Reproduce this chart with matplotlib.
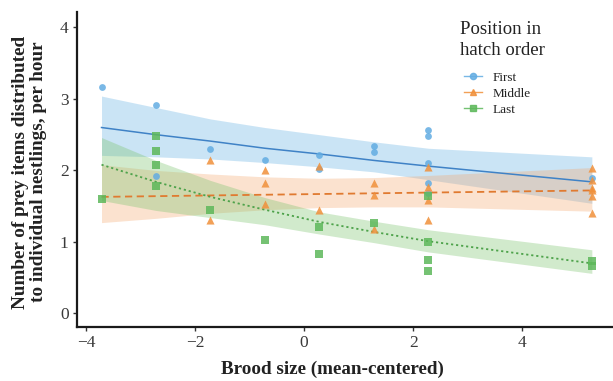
import matplotlib
matplotlib.use("Agg")
import matplotlib.pyplot as plt
from matplotlib.lines import Line2D

# ---- data ----
first_x = [-3.72, -2.72, -2.72, -1.72, -0.72, 0.28, 0.28, 1.28, 1.28, 2.28, 2.28, 2.28, 2.28, 2.28, 5.28]
first_y = [3.16, 2.91, 1.92, 2.30, 2.14, 2.21, 2.02, 2.34, 2.26, 2.57, 2.48, 2.11, 1.83, 1.69, 1.89]

middle_x = [-1.72, -1.72, -0.72, -0.72, -0.72, 0.28, 0.28, 1.28, 1.28, 1.28,
            2.28, 2.28, 2.28, 2.28, 5.28, 5.28, 5.28, 5.28, 5.28, 5.28]
middle_y = [2.15, 1.30, 2.01, 1.82, 1.53, 2.06, 1.44, 1.82, 1.66, 1.18,
            2.05, 1.77, 1.59, 1.31, 2.03, 1.86, 1.76, 1.72, 1.64, 1.40]

last_x = [-3.72, -2.72, -2.72, -2.72, -2.72, -1.72, -0.72, 0.28, 0.28, 1.28,
          2.28, 2.28, 2.28, 2.28, 5.28, 5.28]
last_y = [1.60, 2.48, 2.27, 2.07, 1.78, 1.45, 1.03, 1.21, 0.83, 1.27,
          1.64, 1.00, 0.75, 0.59, 0.73, 0.67]

fit_x = [-3.72, -2.72, -1.72, -0.72, 0.28, 1.28, 2.28, 5.28]
first_fit = [2.60, 2.50, 2.41, 2.31, 2.23, 2.14, 2.06, 1.84]
first_hi = [3.04, 2.88, 2.72, 2.60, 2.50, 2.40, 2.31, 2.19]
first_lo = [2.21, 2.19, 2.16, 2.11, 2.05, 1.98, 1.87, 1.54]

middle_fit = [1.63, 1.64, 1.65, 1.66, 1.67, 1.68, 1.69, 1.72]
middle_hi = [2.08, 2.00, 1.95, 1.91, 1.89, 1.90, 1.93, 2.04]
middle_lo = [1.27, 1.33, 1.40, 1.45, 1.48, 1.49, 1.49, 1.43]

last_fit = [2.08, 1.84, 1.63, 1.45, 1.28, 1.14, 1.01, 0.70]
last_hi = [2.46, 2.14, 1.86, 1.62, 1.42, 1.29, 1.17, 0.89]
last_lo = [1.58, 1.44, 1.34, 1.24, 1.11, 0.99, 0.86, 0.56]

x_ticks = [-4, -2, 0, 2, 4]
y_ticks = [0, 1, 2, 3, 4]
legend_labels = ["First", "Middle", "Last"]

# ---- style ----
serif = ["Liberation Serif", "DejaVu Serif"]
plt.rcParams["font.family"] = serif

c_blue_pt, c_blue_ln, c_blue_rb = "#62ACE2", "#3F82C6", "#5DADE2"
c_or_pt, c_or_ln, c_or_rb = "#F0903A", "#E07A30", "#F5A56A"
c_gr_pt, c_gr_ln, c_gr_rb = "#5DB85A", "#4DA24A", "#7CC46E"

fig = plt.figure(figsize=(6.13, 3.81), dpi=100)
ax = fig.add_axes([77 / 613, 1 - 327 / 381, (612 - 77) / 613, (327 - 11.7) / 381])

# ribbons
ax.fill_between(fit_x, first_lo, first_hi, color=c_blue_rb, alpha=0.32, lw=0, zorder=1)
ax.fill_between(fit_x, middle_lo, middle_hi, color=c_or_rb, alpha=0.32, lw=0, zorder=1)
ax.fill_between(fit_x, last_lo, last_hi, color=c_gr_rb, alpha=0.35, lw=0, zorder=1)

# lines
ax.plot(fit_x, first_fit, color=c_blue_ln, lw=1.1, ls="-", zorder=3)
ax.plot(fit_x, middle_fit, color=c_or_ln, lw=1.3, ls=(0, (4, 2.5)), zorder=3)
ax.plot(fit_x, last_fit, color=c_gr_ln, lw=1.3, ls=(0, (1.2, 1.6)), zorder=3)

# points
ax.scatter(first_x, first_y, marker="o", s=24, color=c_blue_pt, alpha=0.85, lw=0, zorder=4)
ax.scatter(middle_x, middle_y, marker="^", s=34, color=c_or_pt, alpha=0.85, lw=0, zorder=4)
ax.scatter(last_x, last_y, marker="s", s=28, color=c_gr_pt, alpha=0.85, lw=0, zorder=4)

ax.set_xlim(-4.17, 5.65)
ax.set_ylim(-0.19, 4.22)
ax.set_xticks(x_ticks)
ax.set_xticklabels(["\u2212" + str(abs(t)) if t < 0 else str(t) for t in x_ticks])
ax.set_yticks(y_ticks)
ax.tick_params(labelsize=12.5, length=3, width=1, color="#333333", labelcolor="#3a3a3a", pad=3)
for s in ["top", "right"]:
    ax.spines[s].set_visible(False)
for s in ["left", "bottom"]:
    ax.spines[s].set_linewidth(1.6)
    ax.spines[s].set_color("#1a1a1a")

ax.set_xlabel("Brood size (mean-centered)", fontsize=13.8, fontweight="bold", color="#222222")
ax.xaxis.set_label_coords((332 - 77) / (612 - 77), -(361 - 327) / (327 - 11.7))
ax.set_ylabel("Number of prey items distributed\nto individual nestlings, per hour",
              fontsize=13.8, fontweight="bold", linespacing=1.05, color="#222222")
ax.yaxis.set_label_coords(-(77 - 47) / (612 - 77), (327 - 172) / (327 - 11.7))

fig.text(460 / 613, 1 - 40 / 381, "Position in\nhatch order", fontsize=13.5,
         color="#222222", ha="left", va="center", linespacing=1.25)

handles = [
    Line2D([0], [0], color=c_blue_pt, marker="o", markersize=4.5, lw=1.0, alpha=0.85),
    Line2D([0], [0], color=c_or_pt, marker="^", markersize=5, lw=1.0, alpha=0.85),
    Line2D([0], [0], color=c_gr_pt, marker="s", markersize=4.5, lw=1.0, alpha=0.85),
]
leg = fig.legend(handles, legend_labels,
                 loc="upper left", bbox_to_anchor=(452 / 613, 1 - 60 / 381),
                 frameon=False, fontsize=9.5,
                 handlelength=1.4, handletextpad=0.8, labelspacing=0.28)
for t in leg.get_texts():
    t.set_color("#222222")

fig.savefig("out.png", dpi=100)
